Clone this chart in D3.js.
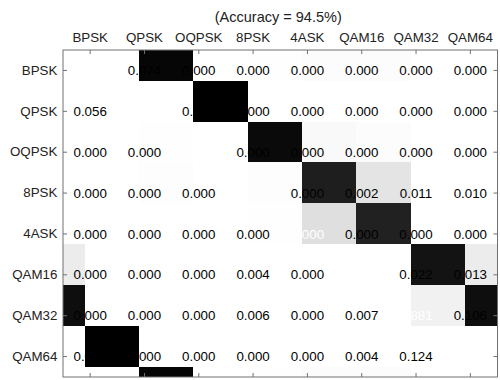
<!DOCTYPE html>
<html>
<head>
<meta charset="utf-8">
<script src="https://cdn.jsdelivr.net/npm/d3@7"></script>
<style>
  html, body { margin: 0; padding: 0; background: #fff; }
  svg { display: block; }
  text { font-family: "Liberation Sans", Arial, Helvetica, sans-serif; }
</style>
</head>
<body>
<svg id="chart" width="500" height="380"></svg>
<script>
// Modulation classes (rows = true class, columns = predicted class)
const classes = ["BPSK", "QPSK", "OQPSK", "8PSK", "4ASK", "QAM16", "QAM32", "QAM64"];

// Confusion-matrix rows, one array per true class
const rowBPSK  = [0.926, 0.074, 0.000, 0.000, 0.000, 0.000, 0.000, 0.000];
const rowQPSK  = [0.056, 0.944, 0.000, 0.000, 0.000, 0.000, 0.000, 0.000];
const rowOQPSK = [0.000, 0.000, 1.000, 0.000, 0.000, 0.000, 0.000, 0.000];
const row8PSK  = [0.000, 0.000, 0.000, 0.977, 0.000, 0.002, 0.011, 0.010];
const row4ASK  = [0.000, 0.000, 0.000, 0.000, 1.000, 0.000, 0.000, 0.000];
const rowQAM16 = [0.000, 0.000, 0.000, 0.004, 0.000, 0.961, 0.022, 0.013];
const rowQAM32 = [0.000, 0.000, 0.000, 0.006, 0.000, 0.007, 0.881, 0.106];
const rowQAM64 = [0.000, 0.000, 0.000, 0.000, 0.000, 0.004, 0.124, 0.872];

const matrix = [rowBPSK, rowQPSK, rowOQPSK, row8PSK, row4ASK, rowQAM16, rowQAM32, rowQAM64];

// Plot box
const plotLeft = 63, plotTop = 50, plotW = 434.5, plotH = 327;
// Circular offset of the heat layer, in cells (it wraps around inside the box)
const shiftCols = -1.6, shiftRows = -3.25;

const fontSize = 13.33;
const titleSize = 14.5;
const axisColor = "#707070";
const labelColor = "#222";

const svg = d3.select("#chart");

const x = d3.scaleBand().domain(classes).range([0, plotW]);
const y = d3.scaleBand().domain(classes).range([0, plotH]);
const shade = d3.scaleLinear().domain([0, 1]).range(["#ffffff", "#000000"]);

const cells = [];
matrix.forEach((row, r) => row.forEach((v, c) => {
  cells.push({ row: classes[r], col: classes[c], value: v, diag: r === c });
}));

// Accuracy = mean of the diagonal
const accuracy = d3.mean(matrix.map((row, i) => row[i])) * 100;

svg.append("text")
  .attr("x", plotLeft + plotW / 2 - 2)
  .attr("y", 22)
  .attr("text-anchor", "middle")
  .attr("font-size", titleSize)
  .attr("fill", labelColor)
  .text(`(Accuracy = ${accuracy.toFixed(1)}%)`);

const g = svg.append("g").attr("transform", `translate(${plotLeft},${plotTop})`);

g.append("defs").append("clipPath").attr("id", "plotClip")
  .append("rect").attr("x", 0).attr("y", 0).attr("width", plotW).attr("height", plotH);

// Heat layer: each cell plus its wrapped copies, clipped to the box
const wrap = (p, size) => ((p % size) + size) % size;
const tiles = [];
cells.forEach(d => {
  const px = wrap(x(d.col) + shiftCols * x.bandwidth(), plotW);
  const py = wrap(y(d.row) + shiftRows * y.bandwidth(), plotH);
  [px, px - plotW].forEach(tx => [py, py - plotH].forEach(ty => {
    tiles.push({ tx, ty, value: d.value });
  }));
});

g.append("g").attr("clip-path", "url(#plotClip)")
  .selectAll("rect")
  .data(tiles)
  .join("rect")
  .attr("x", d => d.tx)
  .attr("y", d => d.ty)
  .attr("width", x.bandwidth())
  .attr("height", y.bandwidth())
  .attr("fill", d => shade(d.value))
  .attr("shape-rendering", "crispEdges");

// Value labels at the cell centres
g.append("g")
  .selectAll("text")
  .data(cells)
  .join("text")
  .attr("x", d => x(d.col) + x.bandwidth() / 2)
  .attr("y", d => y(d.row) + y.bandwidth() / 2)
  .attr("dy", "0.35em")
  .attr("text-anchor", "middle")
  .attr("font-size", fontSize)
  .attr("fill", d => d.value > 0.5 ? "#ffffff" : "#000000")
  .text(d => d3.format(".3f")(d.value));

// Axes: ticks point inward on all four sides
function styleAxis(sel) {
  sel.select(".domain").remove();
  sel.selectAll(".tick line").attr("stroke", axisColor);
  sel.selectAll(".tick text")
    .attr("font-size", fontSize)
    .attr("font-family", '"Liberation Sans", Arial, Helvetica, sans-serif')
    .attr("fill", labelColor);
}

g.append("g")
  .call(d3.axisTop(x).tickSizeInner(-4).tickSizeOuter(0).tickPadding(8.5))
  .call(styleAxis);

g.append("g")
  .attr("transform", `translate(0,${plotH})`)
  .call(d3.axisBottom(x).tickSizeInner(-4).tickSizeOuter(0).tickFormat(""))
  .call(styleAxis);

g.append("g")
  .call(d3.axisLeft(y).tickSizeInner(-4).tickSizeOuter(0).tickPadding(5.7))
  .call(styleAxis);

g.append("g")
  .attr("transform", `translate(${plotW},0)`)
  .call(d3.axisRight(y).tickSizeInner(-4).tickSizeOuter(0).tickFormat(""))
  .call(styleAxis);

// Box
g.append("rect")
  .attr("x", 0).attr("y", 0)
  .attr("width", plotW).attr("height", plotH)
  .attr("fill", "none")
  .attr("stroke", axisColor)
  .attr("stroke-width", 1);
</script>
</body>
</html>
